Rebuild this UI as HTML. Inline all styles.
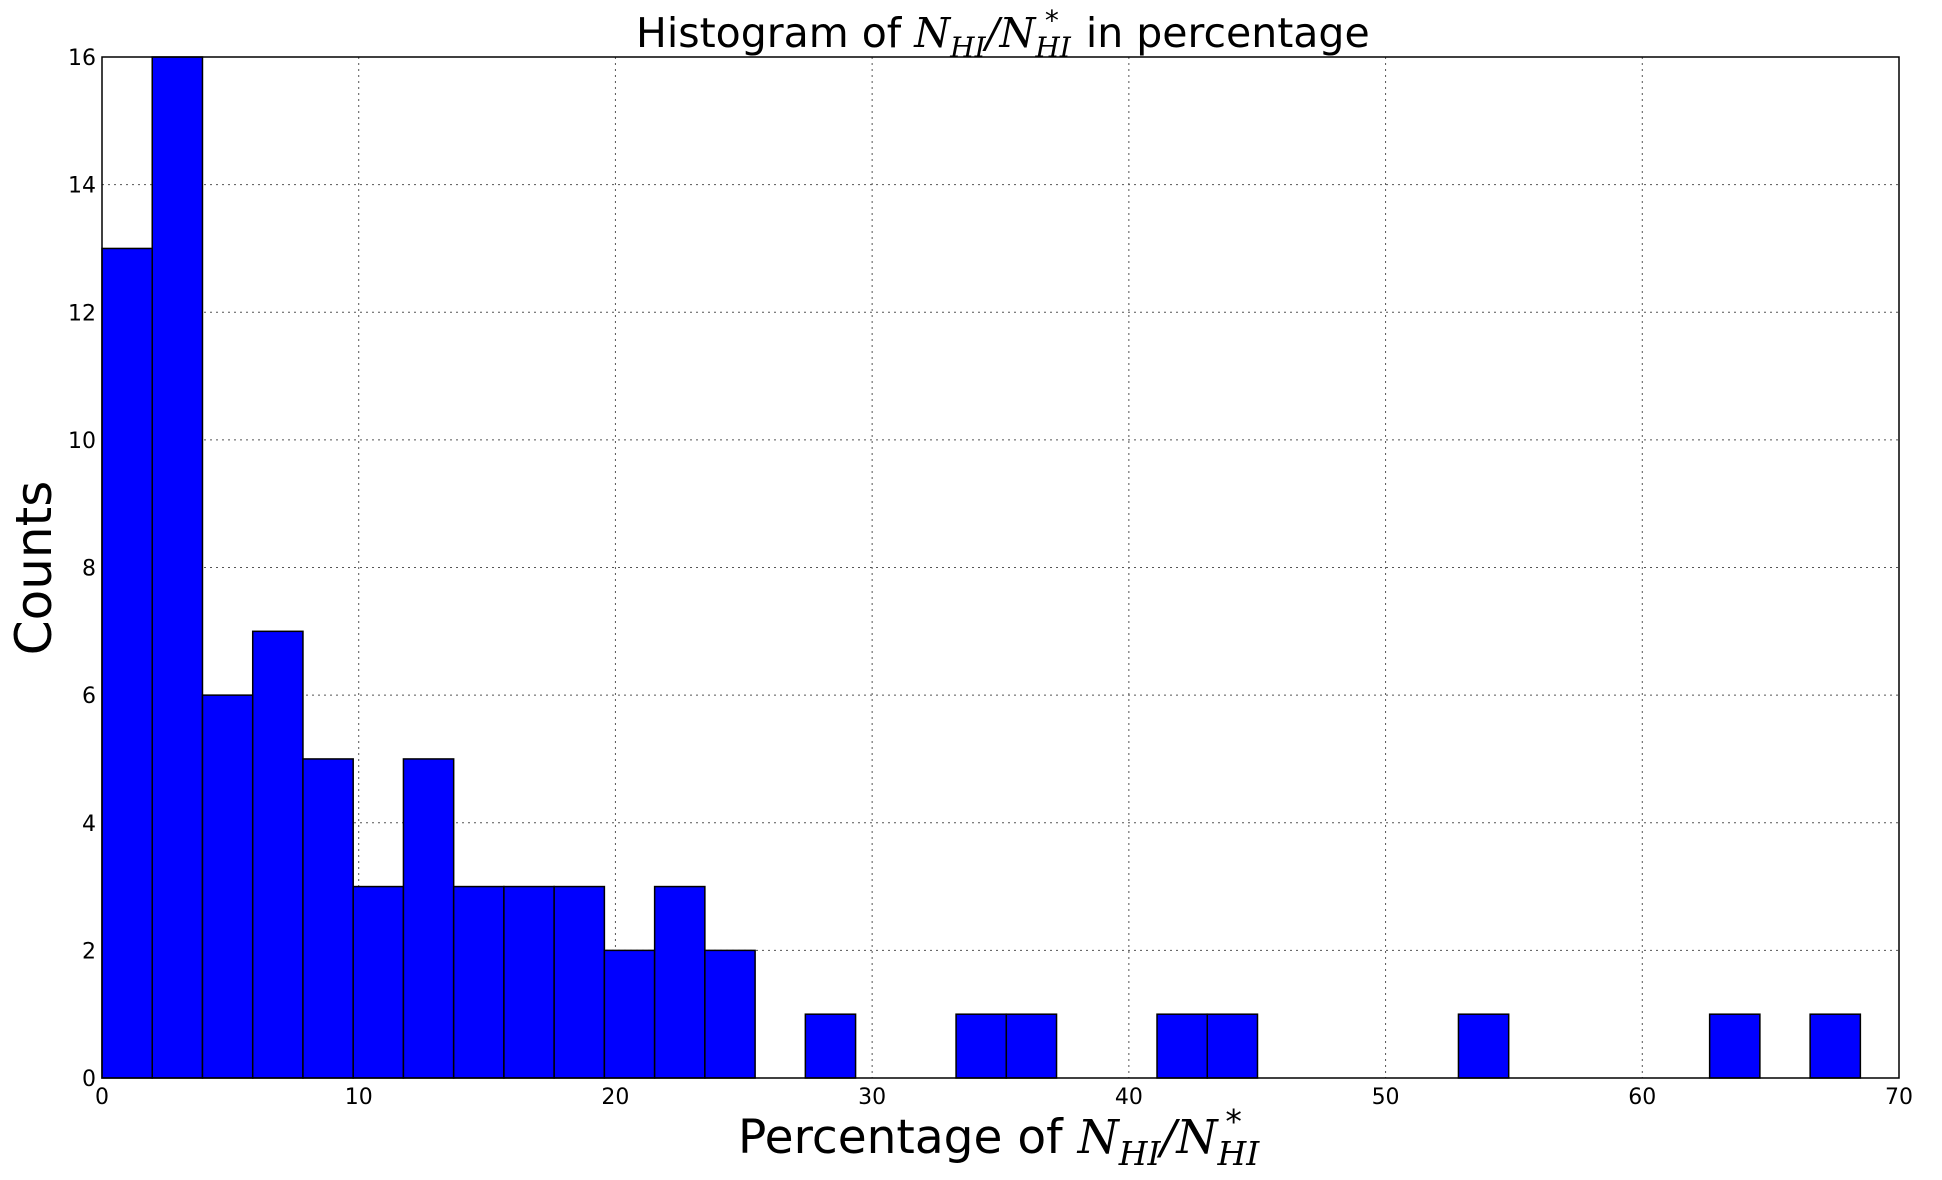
<!DOCTYPE html>
<html><head><meta charset="utf-8"><style>html,body{margin:0;padding:0;background:#fff}svg{display:block}</style></head>
<body>
<svg id="chart" width="1942" height="1180" xmlns="http://www.w3.org/2000/svg" font-family="'DejaVu Sans','Liberation Sans',sans-serif">
<rect width="1942" height="1180" fill="#fff"/>
<g id="grid"></g>
<g id="bars"></g>
<g id="ticks"></g>
<rect x="102" y="57" width="1797" height="1021" fill="none" stroke="#000" stroke-width="1.5"/>
<text x="636" y="47" font-size="41">Histogram of <tspan font-family="'DejaVu Serif','Liberation Serif',serif" font-style="italic">N</tspan><tspan font-family="'DejaVu Serif','Liberation Serif',serif" font-style="italic" font-size="28" dy="10">HI</tspan><tspan font-family="'DejaVu Serif','Liberation Serif',serif" font-style="italic" dy="-10">/N</tspan><tspan font-family="'DejaVu Serif','Liberation Serif',serif" font-style="italic" font-size="28" dy="10">HI</tspan><tspan font-size="28" dx="-26" dy="-27">*</tspan><tspan dx="14" dy="17"> in percentage</tspan></text>
<text x="738" y="1153" font-size="47">Percentage of <tspan font-family="'DejaVu Serif','Liberation Serif',serif" font-style="italic">N</tspan><tspan font-family="'DejaVu Serif','Liberation Serif',serif" font-style="italic" font-size="33" dy="12">HI</tspan><tspan font-family="'DejaVu Serif','Liberation Serif',serif" font-style="italic" dy="-12">/N</tspan><tspan font-family="'DejaVu Serif','Liberation Serif',serif" font-style="italic" font-size="33" dy="12">HI</tspan><tspan font-size="33" dx="-34" dy="-32">*</tspan></text>
<text transform="translate(51,568) rotate(-90)" text-anchor="middle" font-size="50">Counts</text>
<script>
const binStart = 0;
const binWidth = 1.957;
const counts = [13,16,6,7,5,3,5,3,3,3,2,3,2,0,1,0,0,1,1,0,0,1,1,0,0,0,0,1,0,0,0,0,1,0,1];
const xTicks = [0,10,20,30,40,50,60,70];
const yTicks = [0,2,4,6,8,10,12,14,16];
const X0=102,X1=1899,Y0=1078,Y1=57;
const xs=v=>X0+(v-0)/(70-0)*(X1-X0);
const ys=v=>Y0-(v-0)/(16-0)*(Y0-Y1);
const NS='http://www.w3.org/2000/svg';
const grid=document.getElementById('grid'),bars=document.getElementById('bars'),ticks=document.getElementById('ticks');
function mk(tag,attrs,parent){const e=document.createElementNS(NS,tag);for(const k in attrs)e.setAttribute(k,attrs[k]);parent.appendChild(e);return e;}
xTicks.forEach(t=>{
  const g=mk('line',{x1:xs(t),x2:xs(t),y1:Y1,y2:Y0,stroke:'#555','stroke-width':1,'stroke-dasharray':'2,4'},grid);
  
  
  const l=mk('text',{x:xs(t),y:1104,'text-anchor':'middle','font-size':22},ticks);
  
  
  l.textContent=t;
});
yTicks.forEach(t=>{
  const g=mk('line',{x1:X0,x2:X1,y1:ys(t),y2:ys(t),stroke:'#555','stroke-width':1,'stroke-dasharray':'2,4'},grid);
  
  
  const l=mk('text',{x:96,y:ys(t)+8,'text-anchor':'end','font-size':22},ticks);
  
  
  l.textContent=t;
});
counts.forEach((c,i)=>{
  if(c<=0)return;
  const a=binStart+i*binWidth,b=a+binWidth;
  const r=mk('rect',{x:xs(a),y:ys(c),width:xs(b)-xs(a),height:ys(0)-ys(c),fill:'#0000ff',stroke:'#000','stroke-width':1.5},bars);
  
  
});
</script>
</svg>
</body></html>
